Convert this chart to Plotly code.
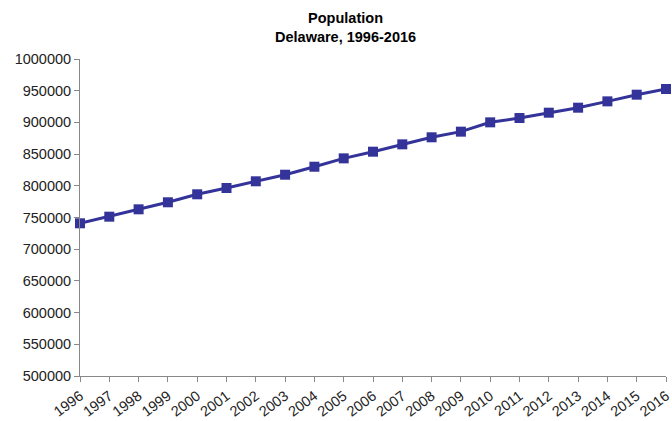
import plotly.graph_objects as go

years = list(range(1996, 2017))
population = [740850, 751300, 762900, 774000, 786600, 796500, 807100, 817500,
              830100, 843300, 853800, 865400, 876500, 885400, 900100, 906900,
              915300, 923200, 933200, 943700, 952700]
y_ticks = list(range(500000, 1000001, 50000))

fig = go.Figure()
fig.add_trace(go.Scatter(
    x=years, y=population, mode="lines+markers",
    line=dict(color="#333399", width=3),
    marker=dict(symbol="square", size=10, color="#333399"),
    cliponaxis=False, showlegend=False,
))

fig.update_layout(
    width=672, height=421,
    margin=dict(l=80, r=6, t=59, b=45, autoexpand=False),
    paper_bgcolor="white", plot_bgcolor="white",
    font=dict(family="Liberation Sans, Arial, sans-serif", size=14.5, color="#222222"),
    annotations=[dict(
        text="<b>Population</b><br><b>Delaware, 1996-2016</b>",
        xref="paper", yref="paper", x=(345 - 80) / 586, y=1, yshift=12,
        xanchor="center", yanchor="bottom", showarrow=False,
        font=dict(size=14.5, color="black"),
    )],
    xaxis=dict(
        range=[1996, 2016], tickmode="array", tickvals=years,
        ticktext=[str(y) for y in years], tickangle=-37, automargin=False,
        ticklabeloverflow="allow",
        showgrid=False, zeroline=False, showline=True, linecolor="#888888", linewidth=1,
        ticks="outside", ticklen=5, tickcolor="#888888",
    ),
    yaxis=dict(
        range=[500000, 1000000], tickmode="array", tickvals=y_ticks,
        ticktext=[str(v) for v in y_ticks], automargin=False,
        ticklabeloverflow="allow",
        showgrid=False, zeroline=False, showline=True, linecolor="#888888", linewidth=1,
        ticks="outside", ticklen=5, tickcolor="#888888",
    ),
)

fig.write_html(
    "out.html",
    config={"displayModeBar": False},
    post_script="document.body.style.margin='0';document.body.style.overflow='hidden';",
)
